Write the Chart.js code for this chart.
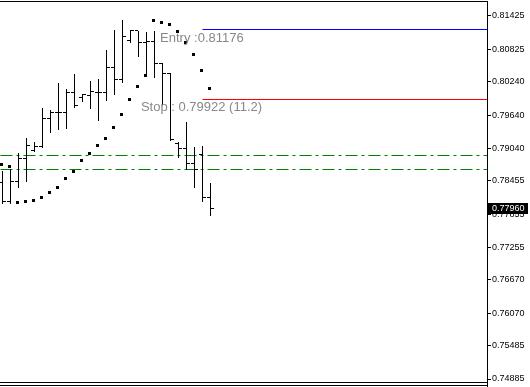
<!DOCTYPE html>
<html>
<head>
<meta charset="utf-8">
<script src="https://cdn.jsdelivr.net/npm/chart.js@4.4.0/dist/chart.umd.min.js"></script>
<style>
html,body{margin:0;padding:0;background:#fff;overflow:hidden;}
canvas{display:block;}
</style>
</head>
<body>
<canvas id="mycanvas" width="530" height="387"></canvas>
<script>
// OHLC bars, oldest first
var opens  = [0.78434,0.78074,0.78452,0.78849,0.78993,0.79065,0.79587,0.79695,0.79695,0.80038,0.79948,0.79984,0.80047,0.80038,0.80488,0.80272,0.80975,0.81155,0.80939,0.80957,0.80578,0.80380,0.79119,0.79029,0.78759,0.78921,0.78146];
var highs  = [0.78632,0.78668,0.78957,0.79227,0.79155,0.79767,0.79731,0.80218,0.80110,0.80380,0.80020,0.80254,0.80290,0.80812,0.81173,0.81353,0.81164,0.81160,0.81137,0.81155,0.80578,0.80398,0.79155,0.79515,0.79065,0.79083,0.78416];
var lows   = [0.78056,0.78056,0.78344,0.78452,0.78993,0.79065,0.79335,0.79389,0.79407,0.79786,0.79894,0.79767,0.79551,0.79912,0.80020,0.80236,0.80957,0.80710,0.80398,0.80326,0.79840,0.79191,0.78885,0.78668,0.78344,0.78092,0.77840];
var closes = [0.78074,0.78452,0.78849,0.79083,0.79065,0.79587,0.79695,0.79695,0.80038,0.79804,0.80002,0.80056,0.80047,0.80488,0.80272,0.81047,0.81155,0.80939,0.80957,0.80578,0.80389,0.79191,0.79029,0.78759,0.78668,0.78146,0.77960];
// parabolic SAR
var sar = [0.78741,0.78717,0.78056,0.78074,0.78105,0.78151,0.78249,0.78332,0.78501,0.78632,0.78813,0.78951,0.79088,0.79222,0.79420,0.79647,0.79924,0.80158,0.80344,0.81348,0.81312,0.81263,0.81137,0.80951,0.80740,0.80447,0.80122];

var priceTicks = [0.81425,0.80825,0.80240,0.79640,0.79040,0.78455,0.77855,0.77255,0.76670,0.76070,0.75485,0.74885];
var priceMin = 0.74831, priceMax = 0.81695;

var entryPrice = 0.81176;
var stopPrice = 0.79922;
var stopPips = 11.2;
var levelsFromBar = 25;
var entryTextBar = 19.7, stopTextBar = 17.3;
var greenLevels = [0.78903, 0.78668];
var lastPrice = 0.77960;

var xMin = -0.3125, xMax = 60.5625;

var rangeData = [], openData = [], closeData = [], sarData = [];
for (var i = 0; i < opens.length; i++) {
  rangeData.push({x: i, y: [lows[i], highs[i]]});
  openData.push({x: i - 0.25, y: opens[i]});
  closeData.push({x: i + 0.25, y: closes[i]});
  sarData.push({x: i - 0.1, y: sar[i]});
}

function hline(price, from, color, dash) {
  return {
    type: 'line',
    data: [{x: from, y: price}, {x: xMax, y: price}],
    borderColor: color,
    borderWidth: 1,
    borderDash: dash || [],
    pointRadius: 0,
    fill: false
  };
}

var datasets = [
  {type: 'bar', data: rangeData, backgroundColor: '#000', borderWidth: 0, barThickness: 1, inflateAmount: 0},
  {type: 'line', data: openData, showLine: false, pointStyle: 'line', pointRadius: 1.5, pointBorderWidth: 1, pointBorderColor: '#000'},
  {type: 'line', data: closeData, showLine: false, pointStyle: 'line', pointRadius: 1.5, pointBorderWidth: 1, pointBorderColor: '#000'},
  {type: 'line', data: sarData, showLine: false, pointStyle: 'rect', pointRadius: 2.12, pointBorderWidth: 0, pointBackgroundColor: '#000'},
  hline(entryPrice, levelsFromBar, '#0000ff'),
  hline(stopPrice, levelsFromBar, '#ff0000'),
  hline(greenLevels[0], xMin, '#008000', [12, 4, 3, 4]),
  hline(greenLevels[1], xMin, '#008000', [12, 4, 3, 4])
];

function noPadding(scale) {
  scale.paddingTop = 0;
  scale.paddingBottom = 0;
  scale.paddingLeft = 0;
  scale.paddingRight = 0;
}

function half(v) { return Math.round(v - 0.5) + 0.5; }

// snap elements to the pixel grid so 1px marks stay sharp
var snap = {
  id: 'snap',
  afterDatasetsUpdate: function(chart) {
    chart.data.datasets.forEach(function(ds, k) {
      var meta = chart.getDatasetMeta(k);
      meta.data.forEach(function(el) {
        if (meta.type === 'bar') {
          el.x = half(el.x);
          el.y = Math.round(el.y);
          el.base = Math.round(el.base) + 1;
        } else {
          el.x = half(el.x);
          el.y = half(el.y);
        }
      });
    });
  }
};

var extras = {
  id: 'extras',
  afterDatasetsDraw: function(chart) {
    var ctx = chart.ctx, xs = chart.scales.x, ys = chart.scales.y;
    ctx.save();
    ctx.font = '13px "Liberation Sans", Arial, sans-serif';
    ctx.fillStyle = '#888888';
    ctx.textBaseline = 'middle';
    ctx.textAlign = 'left';
    ctx.fillText('Entry :' + entryPrice.toFixed(5), xs.getPixelForValue(entryTextBar), ys.getPixelForValue(entryPrice) + 8.5);
    ctx.fillText('Stop : ' + stopPrice.toFixed(5) + ' (' + stopPips.toFixed(1) + ')', xs.getPixelForValue(stopTextBar), ys.getPixelForValue(stopPrice) + 8.5);
    ctx.restore();
  },
  afterDraw: function(chart) {
    var ctx = chart.ctx, a = chart.chartArea, ys = chart.scales.y;
    ctx.save();
    ctx.strokeStyle = '#000';
    ctx.lineWidth = 1;
    ctx.beginPath();
    ctx.moveTo(0, a.top + 0.5); ctx.lineTo(a.right + 1, a.top + 0.5);
    ctx.moveTo(a.right + 0.5, a.top); ctx.lineTo(a.right + 0.5, chart.height);
    ctx.moveTo(0, a.bottom + 0.5); ctx.lineTo(a.right, a.bottom + 0.5);
    ctx.moveTo(0, a.bottom + 3.5); ctx.lineTo(a.right, a.bottom + 3.5);
    ctx.stroke();
    // current price box
    var py = Math.round(ys.getPixelForValue(lastPrice));
    ctx.fillStyle = '#000';
    ctx.fillRect(a.right + 1, py - 5, 40, 11);
    ctx.fillStyle = '#fff';
    ctx.font = '9px "Liberation Sans", Arial, sans-serif';
    ctx.textBaseline = 'middle';
    ctx.textAlign = 'left';
    ctx.fillText(lastPrice.toFixed(5), a.right + 5, py + 0.5);
    ctx.restore();
  }
};

var myChart = new Chart(document.getElementById('mycanvas'), {
  data: {datasets: datasets},
  options: {
    responsive: false,
    animation: false,
    devicePixelRatio: 1,
    events: [],
    layout: {autoPadding: false, padding: {top: 1, bottom: 5, left: 0, right: 0}},
    plugins: {legend: {display: false}, tooltip: {enabled: false}},
    scales: {
      x: {type: 'linear', display: false, min: xMin, max: xMax, offset: false, afterFit: noPadding},
      y: {
        type: 'linear',
        position: 'right',
        min: priceMin,
        max: priceMax,
        afterBuildTicks: function(scale) {
          scale.ticks = priceTicks.map(function(v) { return {value: v}; });
        },
        afterFit: function(scale) { scale.width = 43; noPadding(scale); },
        border: {display: false},
        grid: {drawOnChartArea: false, drawTicks: true, tickLength: 4, color: '#000', lineWidth: 1},
        ticks: {
          padding: 1,
          color: '#000',
          font: {family: '"Liberation Sans", Arial, sans-serif', size: 9},
          autoSkip: false,
          callback: function(v) { return Number(v).toFixed(5); }
        }
      }
    }
  },
  plugins: [snap, extras]
});
</script>
</body>
</html>
